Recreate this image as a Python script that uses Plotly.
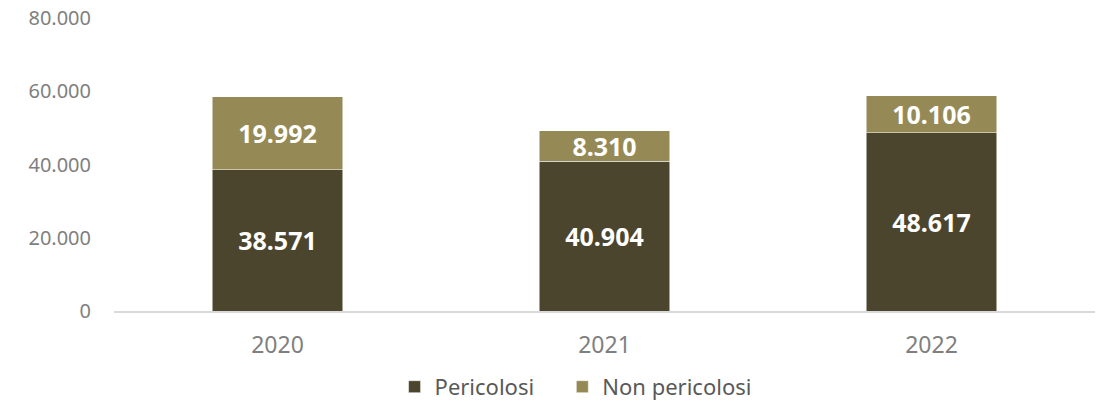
import plotly.graph_objects as go

years = ["2020", "2021", "2022"]
pericolosi = [38571, 40904, 48617]
non_pericolosi = [19992, 8310, 10106]
pericolosi_labels = ["38.571", "40.904", "48.617"]
non_pericolosi_labels = ["19.992", "8.310", "10.106"]
tick_vals = [0, 20000, 40000, 60000, 80000]
tick_text = ["0", "20.000", "40.000", "60.000", "80.000"]

FONT = "Noto Sans"
fig = go.Figure()
fig.add_bar(x=years, y=pericolosi, name="Pericolosi", marker_color="#4b452d",
            marker_line=dict(color="#ffffff", width=0.5),
            text=pericolosi_labels, textposition="inside", insidetextanchor="middle",
            constraintext="none", legend="legend",
            textfont=dict(color="white", size=25, family=FONT, weight="bold"))
fig.add_bar(x=years, y=non_pericolosi, name="Non pericolosi", marker_color="#958a55",
            marker_line=dict(color="#ffffff", width=0.5),
            text=non_pericolosi_labels, textposition="inside", insidetextanchor="middle",
            constraintext="none", legend="legend2",
            textfont=dict(color="white", size=25, family=FONT, weight="bold"))

leg_common = dict(orientation="h", xanchor="left", y=-0.259, yanchor="middle",
                  font=dict(size=22, color="#595959"), itemwidth=30,
                  bgcolor="rgba(0,0,0,0)")

fig.update_layout(
    barmode="stack", bargap=0.6,
    width=1099, height=404,
    margin=dict(l=114, r=4, t=18, b=93, autoexpand=False),
    plot_bgcolor="white", paper_bgcolor="white",
    font=dict(family=FONT, color="#7f7f7f", size=20),
    showlegend=True,
    legend=dict(x=0.286, **leg_common),
    legend2=dict(x=0.457, **leg_common),
    xaxis=dict(showline=True, linecolor="#d9d9d9", linewidth=1.5,
               ticks="outside", tickcolor="rgba(0,0,0,0)", ticklen=13,
               automargin=False,
               tickfont=dict(size=23, color="#7f7f7f"), fixedrange=True),
    yaxis=dict(range=[0, 80000], tickvals=tick_vals, ticktext=tick_text,
               showgrid=False, zeroline=False, showline=False,
               ticks="outside", tickcolor="rgba(0,0,0,0)", ticklen=18,
               ticklabeloverflow="allow", automargin=False, fixedrange=True,
               tickfont=dict(size=20, color="#7f7f7f")),
)

fig.write_html("out.html", config={"displayModeBar": False, "staticPlot": True},
               post_script="document.body.style.margin='0px';document.body.style.overflow='hidden';")
